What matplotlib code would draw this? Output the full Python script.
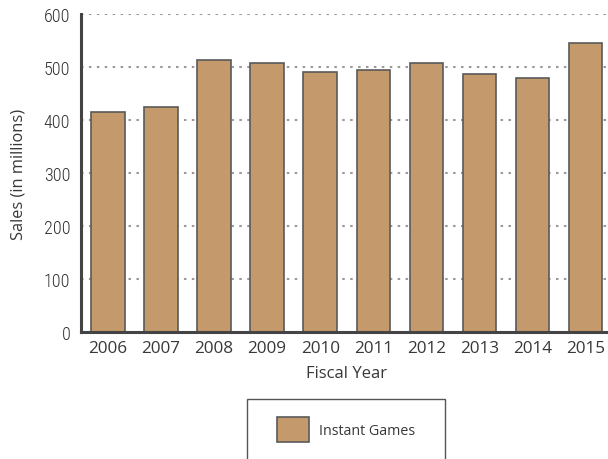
import matplotlib
matplotlib.use("Agg")
import matplotlib.pyplot as plt
from matplotlib.patches import Rectangle, Patch
from matplotlib import font_manager

years = ["2006", "2007", "2008", "2009", "2010", "2011", "2012", "2013", "2014", "2015"]
instant_games = [416, 425, 513, 507, 491, 494, 507, 486, 480, 546]
yticks = [0, 100, 200, 300, 400, 500, 600]
series_name = "Instant Games"

avail = {f.name for f in font_manager.fontManager.ttflist}
narrow = "Roboto Condensed" if "Roboto Condensed" in avail else "DejaVu Sans"
main_font = "Open Sans"

bar_color = "#C4996B"
edge_color = "#5a5a5a"
text_color = "#383838"

fig = plt.figure(figsize=(6.08, 4.60), dpi=100)
ax = fig.add_axes([81.4 / 608, 1 - 333 / 460, 530.6 / 608, 318 / 460])

x = list(range(len(years)))
ax.bar(x, instant_games, width=0.63, color=bar_color, edgecolor=edge_color,
       linewidth=1.2, zorder=3, label=series_name)

ax.set_xlim(-0.5, len(years) - 0.5)
ax.set_ylim(0, 600)
ax.set_yticks(yticks)
ax.set_xticks(x)
ax.set_xticklabels(years, fontfamily=main_font, fontsize=12.3, color=text_color)
ax.set_yticklabels([str(v) for v in yticks], fontfamily=narrow, fontsize=13,
                   fontweight="light", color="#303030")
ax.tick_params(axis="both", length=0)
ax.tick_params(axis="x", pad=6)
ax.tick_params(axis="y", pad=8)

ax.yaxis.grid(True, linestyle=(0, (1.2, 2.6)), color="#9a9a9a", linewidth=1.5, zorder=0)
ax.set_axisbelow(True)

for s in ["top", "right"]:
    ax.spines[s].set_visible(False)
for s in ["left", "bottom"]:
    ax.spines[s].set_color("#444444")
    ax.spines[s].set_linewidth(2.2)
    ax.spines[s].set_zorder(4)

ax.set_xlabel("Fiscal Year", fontfamily=main_font, fontsize=12, color=text_color, labelpad=6)
ax.set_ylabel("Sales (in millions)", fontfamily=main_font, fontsize=11.8, color=text_color, labelpad=12)

# legend
handle = Patch(facecolor=bar_color, edgecolor=edge_color, linewidth=1.2)
leg = fig.legend([handle], [series_name], loc="center",
                 bbox_to_anchor=(346 / 608, 1 - 430.5 / 460),
                 frameon=False, borderpad=0, borderaxespad=0,
                 handlelength=2.24, handleheight=2.31, handletextpad=0.7,
                 prop={"family": main_font, "size": 10.3})
for t in leg.get_texts():
    t.set_color(text_color)

frame = Rectangle((247 / 608, 1 - 463 / 460), (445 - 247) / 608, 63 / 460,
                  transform=fig.transFigure, fill=False, edgecolor="#555555",
                  linewidth=1.0, clip_on=False)
fig.add_artist(frame)

fig.savefig("out.png", dpi=100)
